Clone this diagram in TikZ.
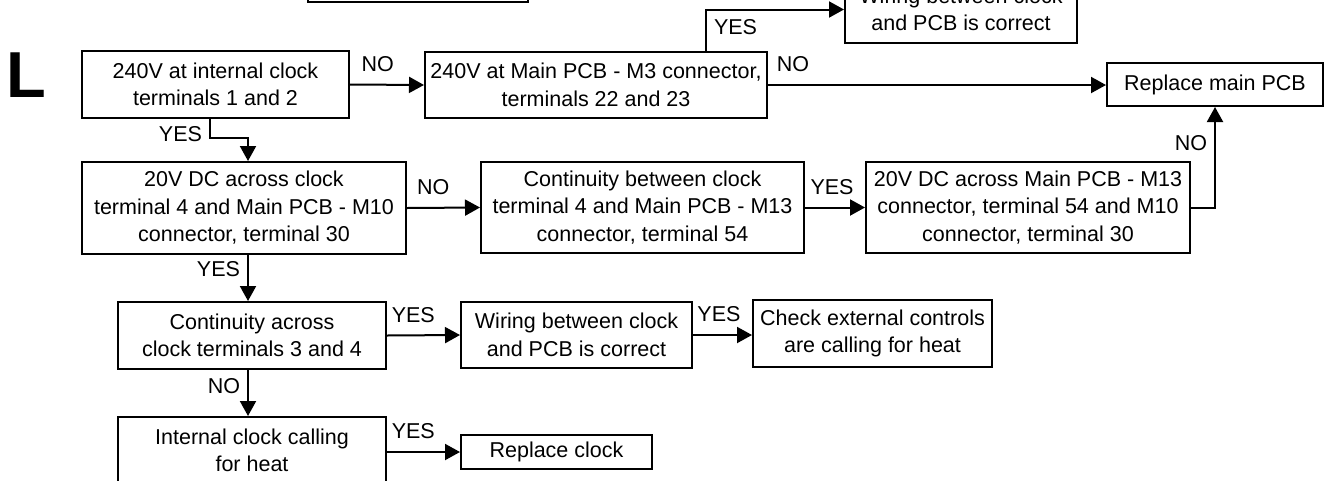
\documentclass[tikz,border=0pt]{standalone}
\usepackage{fontspec}
\setmainfont{Liberation Sans}
\usetikzlibrary{arrows.meta, positioning}

\begin{document}
\begin{tikzpicture}[
  x=1pt, y=-1pt,
  font=\fontsize{21.5}{27.5}\selectfont,
  box/.style={draw, line width=2pt, align=center, inner sep=0pt},
  lbl/.style={inner sep=2pt},
  arr/.style={-{Triangle[length=15pt, width=16pt]}, line width=2pt}
]
\useasboundingbox (0,0) rectangle (1330,480);
\clip (0,0) rectangle (1330,480);

\node[font=\fontsize{65}{65}\selectfont\bfseries] (big) at (26,75.5) {L};

\node[box, minimum width=220pt, minimum height=60pt] (prev) at (418,-28) {};
\node[box, minimum width=232pt, minimum height=67pt] (wtop) at (961,9.5) {Wiring between clock\\and PCB is correct};
\node[box, minimum width=267pt, minimum height=67pt] (clk240) at (215.5,84.5) {240V at internal clock\\terminals 1 and 2};
\node[box, minimum width=342pt, minimum height=66pt] (pcb240) at (596,85) {240V at Main PCB - M3 connector,\\terminals 22 and 23};
\node[box, minimum width=216pt, minimum height=43pt] (newpcb) at (1215,84.5) {Replace main PCB};
\node[box, minimum width=324pt, minimum height=92pt] (dc20) at (244,208) {20V DC across clock\\terminal 4 and Main PCB - M10\\connector, terminal 30};
\node[box, minimum width=323pt, minimum height=91pt] (cont54) at (642.5,207.5) {Continuity between clock\\terminal 4 and Main PCB - M13\\connector, terminal 54};
\node[box, minimum width=324pt, minimum height=91pt] (dc54) at (1028,207.5) {20V DC across Main PCB - M13\\connector, terminal 54 and M10\\connector, terminal 30};
\node[box, minimum width=268pt, minimum height=67pt] (cont34) at (252,335.5) {Continuity across\\clock terminals 3 and 4};
\node[box, minimum width=231pt, minimum height=66pt] (wiring) at (576.5,335) {Wiring between clock\\and PCB is correct};
\node[box, minimum width=239pt, minimum height=67pt] (ext) at (872.5,333.5) {Check external controls\\are calling for heat};
\node[box, minimum width=268pt, minimum height=67pt] (call) at (252,450.5) {Internal clock calling\\for heat};
\node[box, minimum width=191pt, minimum height=34pt] (newclk) at (556.5,452) {Replace clock};

\coordinate (col) at (248,0);

\draw[arr] (clk240.east) -- node[lbl, above=10pt, pos=0.375] {NO} (pcb240.west);
\draw[arr] ([xshift=110pt]pcb240.north) |- node[lbl, right=5pt, pos=0.29] {YES} (wtop.west);
\draw[arr] (pcb240.east) -- node[lbl, above=10pt, pos=0.074] {NO} (pcb240.east -| newpcb.west);
\draw[arr] ([xshift=-5.5pt]clk240.south) -- node[lbl, left=5pt, pos=0.8] {YES} ++(0,19) -| (dc20.north -| col);
\draw[arr] (dc20.east) -- node[lbl, above=10pt, pos=0.36] {NO} (cont54.west);
\draw[arr] (cont54.east) -- node[lbl, above=10pt, pos=0.45] {YES} (dc54.west);
\draw[arr] (dc54.east) -| node[lbl, left=5pt, pos=0.82] {NO} (newpcb.south);
\draw[arr] (dc20.south -| col) -- node[lbl, left=5pt, pos=0.3] {YES} (cont34.north -| col);
\draw[arr] (cont34.east) -- node[lbl, above=10pt, pos=0.36] {YES} (wiring.west);
\draw[arr] (wiring.east) -- node[lbl, above=10pt, pos=0.44] {YES} (wiring.east -| ext.west);
\draw[arr] (cont34.south -| col) -- node[lbl, left=5pt, pos=0.34] {NO} (call.north -| col);
\draw[arr] (newclk.west -| call.east) -- node[lbl, above=10pt, pos=0.36] {YES} (newclk.west);
\end{tikzpicture}
\end{document}
